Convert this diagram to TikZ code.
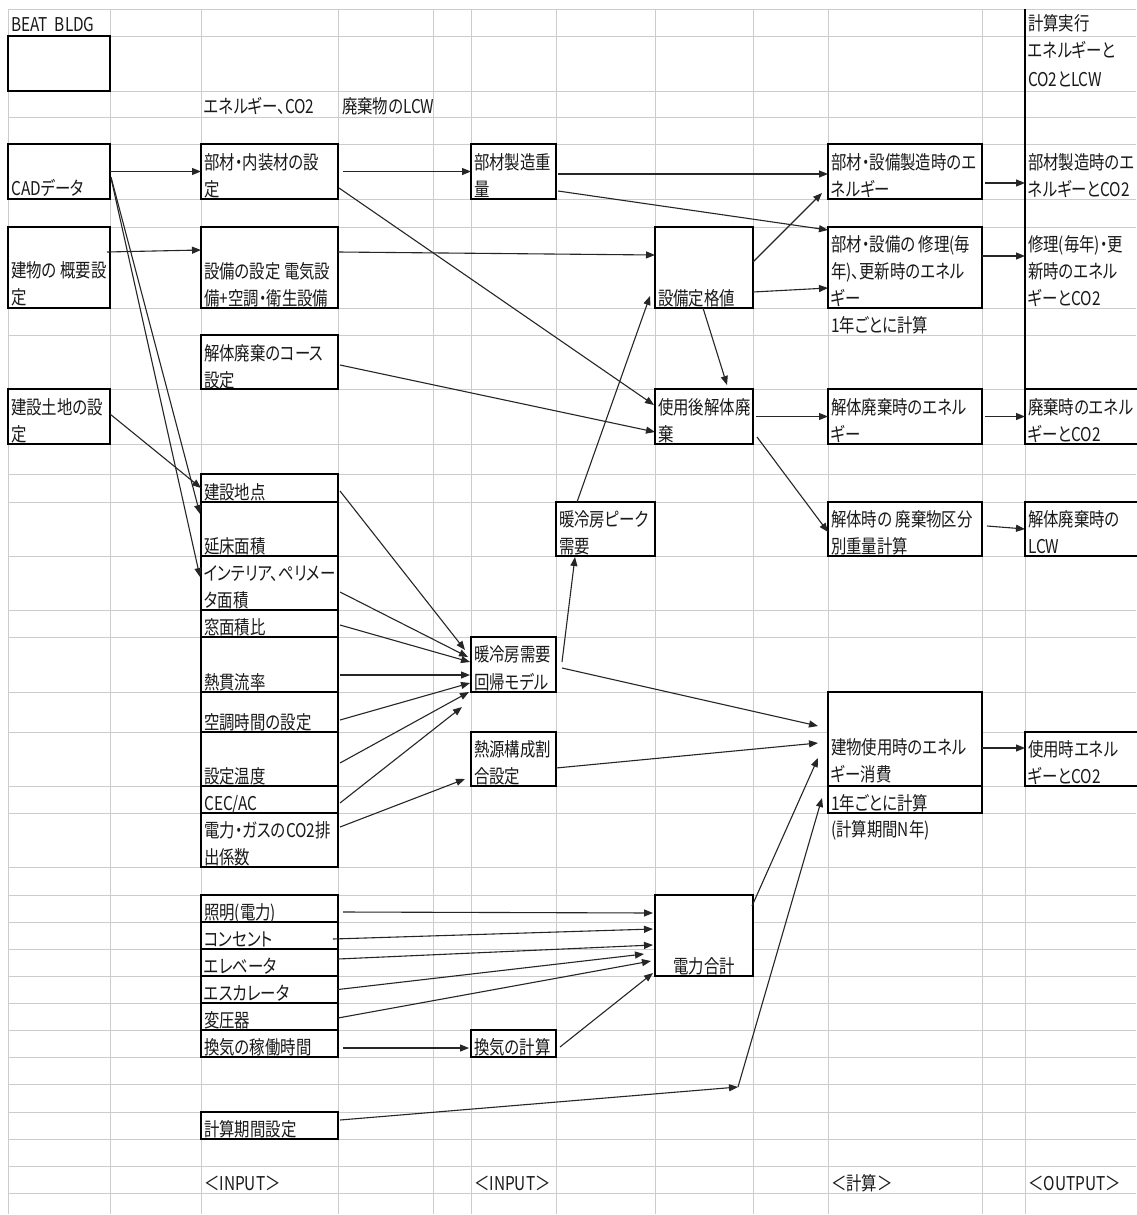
\documentclass[tikz,border=0pt]{standalone}
\usepackage{fontspec}
\newfontfamily\jp{Noto Sans CJK JP}[FakeStretch=0.81,RawFeature={+palt}]
\usetikzlibrary{arrows.meta,calc}
\tikzset{
 gridline/.style={draw=black!20, line width=0.9pt},
 boxst/.style={draw=black, fill=white, line width=1.3pt, inner sep=0pt, outer sep=0pt, anchor=north west},
 ghost/.style={draw=none, fill=none, inner sep=0pt, outer sep=0pt, anchor=north west},
 txt/.style={font=\jp\fontsize{19}{22}\selectfont, inner sep=0pt, anchor=base west, text=black!90},
 arr/.style={draw=black!85, line width=1.1pt, -{Triangle[length=9pt,width=7pt]}},
}
\newcommand\mkbox[5]{\node[boxst, minimum width={#4-#2}, minimum height={#5-#3}] (#1) at (#2,#3) {};}
\newcommand\mkghost[5]{\node[ghost, minimum width={#4-#2}, minimum height={#5-#3}] (#1) at (#2,#3) {};}
\newcommand\tl[4]{\node[txt] (#1) at (#2,#3) {#4};}
\begin{document}
\begin{tikzpicture}[x=1pt,y=-1pt]
\fill[white] (0,0) rectangle (1136,1215);
\useasboundingbox (0,0) rectangle (1136,1215);
% grid
\foreach \x in {8,110,201,338,433,471,556,655,753,828,982,1025} \draw[gridline] (\x,9) -- (\x,1214);
\foreach \y in {9,36,91,117,144,199,227,308,335,389,444,474,502,556,610,637,692,732,786,813,867,895,922,949,976,1003,1030,1057,1084,1112,1139,1166,1193} \draw[gridline] (8,\y) -- (1136,\y);
% boxes column 1
\mkbox{empty}{8}{36}{110}{91}
\mkbox{cad}{8}{144}{110}{199}
\mkbox{gaiyo}{8}{227}{110}{308}
\mkbox{tochi}{8}{389}{110}{444}
% column 2
\mkbox{buzai}{201}{144}{338}{199}
\mkbox{setsubi}{201}{227}{338}{308}
\mkbox{course}{201}{335}{338}{389}
\mkbox{chiten}{201}{474}{338}{502}
\mkbox{yuka}{201}{502}{338}{556}
\mkbox{interior}{201}{556}{338}{610}
\mkbox{mado}{201}{610}{338}{637}
\mkbox{netsu}{201}{637}{338}{692}
\mkbox{kucho}{201}{692}{338}{732}
\mkbox{ondo}{201}{732}{338}{786}
\mkbox{cec}{201}{786}{338}{813}
\mkbox{keisu}{201}{813}{338}{867}
\mkbox{shomei}{201}{895}{338}{922}
\mkbox{concent}{201}{922}{338}{949}
\mkbox{elev}{201}{949}{338}{976}
\mkbox{esc}{201}{976}{338}{1003}
\mkbox{henatsu}{201}{1003}{338}{1030}
\mkbox{kanki}{201}{1030}{338}{1057}
\mkbox{kikan}{201}{1112}{338}{1139}
% column 3
\mkbox{juryo}{471}{144}{556}{199}
\mkbox{peak}{556}{502}{655}{556}
\mkbox{kaiki}{471}{637}{556}{692}
\mkbox{netsugen}{471}{732}{556}{786}
\mkbox{kankicalc}{471}{1030}{556}{1057}
% column 4
\mkbox{teikaku}{655}{227}{753}{308}
\mkbox{kaitai}{655}{389}{753}{444}
\mkbox{denryoku}{655}{895}{753}{976}
% column 5
\mkbox{seizoE}{828}{144}{982}{199}
\mkbox{shuriE}{828}{227}{982}{308}
\mkbox{haikiE}{828}{389}{982}{444}
\mkbox{bunbetsu}{828}{502}{982}{556}
\mkbox{shiyoE}{828}{692}{982}{786}
\mkbox{nengoto}{828}{786}{982}{813}
% output column
\mkghost{outSeizo}{1025}{144}{1136}{199}
\mkghost{outShuri}{1025}{227}{1136}{308}
\mkbox{outHaiki}{1025}{389}{1150}{444}
\mkbox{outLCW}{1025}{502}{1150}{556}
\mkbox{outShiyo}{1025}{732}{1150}{786}
\coordinate (topR) at (1025,9);
\draw[line width=1.3pt] (topR) -- (outHaiki.north west);
% texts
\tl{tBeat}{11}{32}{BEAT\ \ BLDG}
\tl{tEne}{204}{113}{エネルギー、CO2}
\tl{tLcw}{342}{113}{廃棄物のLCW}
\tl{tCad}{11}{195}{CADデータ}
\tl{tGai1}{11}{277}{建物の 概要設}
\tl{tGai2}{11}{304}{定}
\tl{tToc1}{11}{414}{建設土地の設}
\tl{tToc2}{11}{441}{定}
\tl{tBuz1}{204}{169}{部材・内装材の設}
\tl{tBuz2}{204}{196}{定}
\tl{tSet1}{204}{278}{設備の設定 電気設}
\tl{tSet2}{204}{305}{備+空調・衛生設備}
\tl{tCou1}{204}{360}{解体廃棄のコース}
\tl{tCou2}{204}{387}{設定}
\tl{tChi}{204}{499}{建設地点}
\tl{tYuk}{204}{553}{延床面積}
\tl{tInt1}{204}{580}{インテリア、ペリメー}
\tl{tInt2}{204}{607}{タ面積}
\tl{tMad}{204}{634}{窓面積比}
\tl{tNet}{204}{689}{熱貫流率}
\tl{tKuc}{204}{729}{空調時間の設定}
\tl{tOnd}{204}{783}{設定温度}
\tl{tCec}{204}{810}{CEC/AC}
\tl{tKei1}{204}{837}{電力・ガスのCO2排}
\tl{tKei2}{204}{864}{出係数}
\tl{tSho}{204}{919}{照明(電力)}
\tl{tCon}{204}{946}{コンセント}
\tl{tEle}{204}{973}{エレベータ}
\tl{tEsc}{204}{1000}{エスカレータ}
\tl{tHen}{204}{1027}{変圧器}
\tl{tKan}{204}{1054}{換気の稼働時間}
\tl{tKik}{204}{1136}{計算期間設定}
\tl{tIn1}{204}{1190}{＜INPUT＞}
\tl{tJur1}{474}{169}{部材製造重}
\tl{tJur2}{474}{196}{量}
\tl{tPea1}{559}{526}{暖冷房ピーク}
\tl{tPea2}{559}{553}{需要}
\tl{tKai1}{474}{661}{暖冷房需要}
\tl{tKai2}{474}{689}{回帰モデル}
\tl{tNsg1}{474}{756}{熱源構成割}
\tl{tNsg2}{474}{783}{合設定}
\tl{tKkc}{474}{1054}{換気の計算}
\tl{tIn2}{474}{1190}{＜INPUT＞}
\tl{tTei}{658}{305}{設備定格値}
\tl{tKat1}{658}{414}{使用後解体廃}
\tl{tKat2}{658}{441}{棄}
\node[txt, anchor=base] (tDen) at (704,973) {電力合計};
\tl{tSeE1}{831}{169}{部材・設備製造時のエ}
\tl{tSeE2}{831}{196}{ネルギー}
\tl{tShE1}{831}{251}{部材・設備の 修理(毎}
\tl{tShE2}{831}{278}{年)、更新時のエネル}
\tl{tShE3}{831}{305}{ギー}
\tl{tNen1}{831}{332}{1年ごとに計算}
\tl{tHaE1}{831}{414}{解体廃棄時のエネル}
\tl{tHaE2}{831}{441}{ギー}
\tl{tBun1}{831}{526}{解体時の 廃棄物区分}
\tl{tBun2}{831}{553}{別重量計算}
\tl{tShi1}{831}{754}{建物使用時のエネル}
\tl{tShi2}{831}{781}{ギー消費}
\tl{tNen2}{831}{810}{1年ごとに計算}
\tl{tKik2}{831}{836}{(計算期間N年)}
\tl{tCalc}{831}{1190}{＜計算＞}
\tl{tRun1}{1028}{31}{計算実行}
\tl{tRun2}{1028}{58}{エネルギーと}
\tl{tRun3}{1028}{86}{CO2とLCW}
\tl{tOS1}{1028}{169}{部材製造時のエ}
\tl{tOS2}{1028}{196}{ネルギーとCO2}
\tl{tOR1}{1028}{251}{修理(毎年)・更}
\tl{tOR2}{1028}{278}{新時のエネル}
\tl{tOR3}{1028}{305}{ギーとCO2}
\tl{tOH1}{1028}{414}{廃棄時のエネル}
\tl{tOH2}{1028}{441}{ギーとCO2}
\tl{tOL1}{1028}{526}{解体廃棄時の}
\tl{tOL2}{1028}{553}{LCW}
\tl{tOU1}{1028}{756}{使用時エネル}
\tl{tOU2}{1028}{783}{ギーとCO2}
\tl{tOut}{1028}{1190}{＜OUTPUT＞}
% connectors
\draw[arr] (cad.east) -- (buzai.west);
\draw[arr] ([xshift=1pt,yshift=-5.5pt]cad.east) -- ([xshift=-1pt,yshift=15pt]yuka.west);
\draw[arr] ([xshift=1pt,yshift=-6.5pt]cad.east) -- ([xshift=-1pt,yshift=6pt]interior.west);
\draw[arr] ([xshift=-3pt,yshift=15.5pt]gaiyo.east) -- ([yshift=17.5pt]setsubi.west);
\draw[arr] ([yshift=2.5pt]tochi.east) -- (chiten.west);
\draw[arr] ([xshift=5pt]buzai.east) -- (juryo.west);
\draw[arr] ([xshift=1pt,yshift=-16.5pt]buzai.east) -- ([xshift=-1pt,yshift=11.5pt]kaitai.west);
\draw[arr] ([yshift=15.5pt]setsubi.east) -- ([yshift=12.5pt]teikaku.west);
\draw[arr] ([xshift=2pt,yshift=-3pt]course.east) -- ([yshift=-15.5pt]kaitai.west);
\draw[arr] ([xshift=2pt,yshift=-2.5pt]juryo.east) -- ([yshift=-2.5pt]seizoE.west);
\draw[arr] ([xshift=2pt,yshift=-19.5pt]juryo.east) -- ([yshift=37.5pt]shuriE.west);
\draw[arr] ([yshift=5.5pt]teikaku.east) -- ([xshift=-6pt,yshift=6pt]seizoE.south west);
\draw[arr] ([yshift=-24.5pt]teikaku.east) -- ([yshift=-20.5pt]shuriE.west);
\draw[arr] ([xshift=-1pt]teikaku.south) -- ([xshift=23pt,yshift=4pt]kaitai.north);
\draw[arr] ([xshift=-28.5pt]peak.north) -- ([xshift=-5pt,yshift=12pt]teikaku.south west);
\draw[arr] ([xshift=3pt]kaitai.east) -- (haikiE.west);
\draw[arr] ([xshift=4pt,yshift=-20.5pt]kaitai.east) -- ([yshift=-3pt]bunbetsu.west);
\draw[arr] ([xshift=3pt]haikiE.east) -- (outHaiki.west);
\draw[arr] ([xshift=5pt,yshift=3pt]bunbetsu.east) -- (outLCW.west);
\draw[arr] ([xshift=3pt,yshift=-11.5pt]seizoE.east) -- ([yshift=-11.5pt]outSeizo.west);
\draw[arr] ([yshift=11.5pt]shuriE.east) -- ([yshift=11.5pt]outShuri.west);
\draw[arr] ([yshift=-9pt]shiyoE.east) -- ([yshift=11pt]outShiyo.west);
% into regression model
\draw[arr] ([xshift=2pt,yshift=-3pt]chiten.east) -- ([xshift=-6pt,yshift=14.5pt]kaiki.west);
\draw[arr] ([xshift=2pt,yshift=-9pt]interior.east) -- ([xshift=-3pt,yshift=7.5pt]kaiki.west);
\draw[arr] ([xshift=2pt,yshift=-1.5pt]mado.east) -- ([xshift=-1pt,yshift=2.5pt]kaiki.west);
\draw[arr] ([xshift=2pt,yshift=-10.5pt]netsu.east) -- ([xshift=-1pt,yshift=-10.5pt]kaiki.west);
\draw[arr] ([xshift=2pt,yshift=-8pt]kucho.east) -- ([xshift=-1pt,yshift=-18.5pt]kaiki.west);
\draw[arr] ([xshift=2pt,yshift=-4pt]ondo.east) -- ([xshift=-2pt]kaiki.south west);
\draw[arr] ([xshift=2pt,yshift=-3.5pt]cec.east) -- ([xshift=-9pt,yshift=-15pt]kaiki.south west);
\draw[arr] ([xshift=2pt,yshift=13pt]keisu.east) -- ([xshift=-6pt,yshift=-20pt]netsugen.west);
\draw[arr] ([xshift=6pt,yshift=2.5pt]kaiki.east) -- ([xshift=-30.5pt,yshift=-1pt]peak.south);
\draw[arr] ([xshift=6pt,yshift=-3.5pt]kaiki.east) -- ([xshift=-10pt,yshift=13pt]shiyoE.west);
\draw[arr] ([yshift=-9pt]netsugen.east) -- ([xshift=-10pt,yshift=-4pt]shiyoE.west);
\draw[arr] ([xshift=-1pt,yshift=29.5pt]denryoku.east) -- ([xshift=-10pt,yshift=-19pt]shiyoE.west);
% period
\coordinate (P) at (738,1087);
\draw[arr] ([xshift=2pt,yshift=5.5pt]kikan.east) -- (P);
\draw[arr] (P) -- ([xshift=-6pt,yshift=1.5pt]nengoto.west);
% electricity
\draw[arr] ([xshift=5pt,yshift=-3.5pt]shomei.east) -- ([xshift=-2pt,yshift=22.5pt]denryoku.west);
\draw[arr] ([xshift=-5pt,yshift=-3.5pt]concent.east) -- ([xshift=-2pt,yshift=6.5pt]denryoku.west);
\draw[arr] ([yshift=3.5pt]elev.east) -- ([xshift=-2pt,yshift=-9.5pt]denryoku.west);
\draw[arr] (esc.east) -- ([xshift=-11pt,yshift=-18.5pt]denryoku.west);
\draw[arr] ([yshift=-1.5pt]henatsu.east) -- ([xshift=-4pt,yshift=-25.5pt]denryoku.west);
\draw[arr] ([xshift=4pt,yshift=-3.5pt]kankicalc.east) -- ([xshift=-2pt,yshift=3pt]denryoku.south west);
\draw[arr] ([xshift=5pt,yshift=-4.5pt]kanki.east) -- ([xshift=-2pt,yshift=-4.5pt]kankicalc.west);
\end{tikzpicture}
\end{document}
